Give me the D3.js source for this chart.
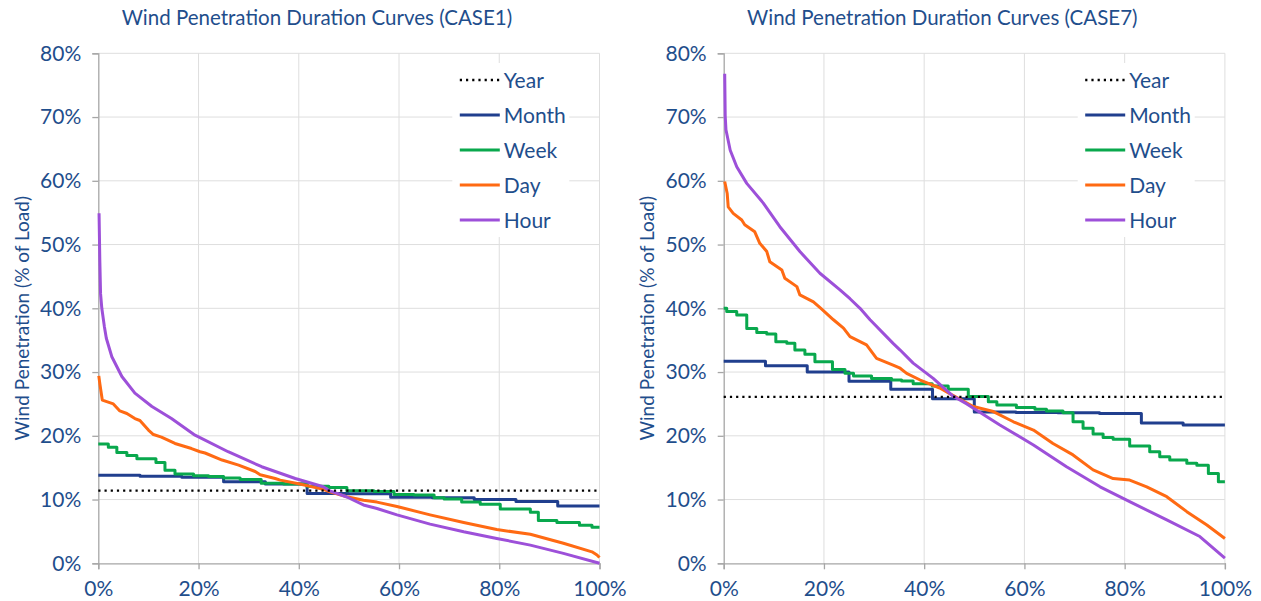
<!DOCTYPE html>
<html>
<head>
<meta charset="utf-8">
<script src="https://cdn.jsdelivr.net/npm/d3@7"></script>
<style>
  html, body { margin: 0; padding: 0; background: #ffffff; }
  svg { display: block; }
  text { font-family: Lato, "Noto Sans", sans-serif; }
</style>
</head>
<body>
<svg id="chart" width="1261" height="601"></svg>
<script>
// ---- data ---------------------------------------------------------------
const durationTicks = [0, 20, 40, 60, 80, 100];
const penetrationTicks = [0, 10, 20, 30, 40, 50, 60, 70, 80];
const seriesNames = ["Year", "Month", "Week", "Day", "Hour"];
const seriesColors = ["#000000", "#203f8e", "#09a84d", "#ff6a13", "#9d50d9"];

// annual average penetration (% of load)
const case1Year = 11.4;
const case7Year = 26.1;

// monthly averages, sorted high to low (12 equal-duration steps)
const case1Month = [13.8, 13.65, 13.5, 12.8, 12.45, 10.95, 10.9, 10.35, 10.3, 10.0, 9.7, 9.0];
const case7Month = [31.7, 31.0, 30.0, 28.55, 27.3, 25.8, 23.75, 23.65, 23.6, 23.5, 22.0, 21.7];

// weekly averages: [duration %, penetration %] step starts
const case1Week = [[0, 18.7], [2, 18.2], [3.7, 17.4], [5.7, 16.9], [7.7, 16.4], [11.5, 15.8],
  [13.3, 14.6], [15.3, 14.0], [19, 13.75], [22, 13.6], [25, 13.4], [28.3, 13.15], [32.5, 12.55],
  [37, 12.45], [41.6, 12.1], [46, 11.9], [49.6, 11.4], [55, 11.25], [59, 10.8], [63, 10.7],
  [67, 10.3], [69, 10.1], [72.5, 9.6], [76.2, 9.25], [80.2, 8.5], [86.2, 8.0], [87.8, 6.7],
  [91.5, 6.4], [96, 5.95], [98.5, 5.65], [100, 5.65]];
const case7Week = [[0, 40.0], [0.6, 39.5], [2.6, 38.95], [4.6, 36.85], [6.6, 36.2], [8.6, 35.95],
  [10.4, 34.75], [12.6, 34.5], [14.2, 33.45], [16.2, 32.8], [18.2, 31.6], [21.7, 30.4],
  [24.2, 29.8], [25.9, 29.4], [29.5, 29.0], [33.5, 28.75], [35.5, 28.6], [37.8, 28.15],
  [41.6, 27.8], [44.8, 27.3], [48.8, 26.15], [52.8, 25.35], [54.5, 24.85], [58.4, 24.45],
  [62.1, 24.15], [64.4, 23.9], [67.7, 23.6], [69.7, 22.2], [71.7, 21.2], [73.7, 20.3],
  [75.7, 19.75], [77.7, 19.45], [81, 18.4], [85, 17.5], [87, 16.7], [89, 16.2], [92.4, 15.7],
  [94.4, 15.4], [96.7, 14.1], [98.7, 12.8], [100, 12.8]];

// daily averages: [duration %, penetration %]
const case1Day = [[0.1, 29.4], [0.3, 28.2], [0.8, 25.6], [3, 25.0], [4.3, 23.9], [5.7, 23.5],
  [7.3, 22.7], [8.3, 22.4], [10, 20.9], [11, 20.2], [12.6, 19.8], [15.3, 18.8], [18.6, 18.0],
  [20.3, 17.5], [21.3, 17.3], [24.7, 16.2], [28, 15.4], [31.3, 14.4], [32.3, 13.9], [35.3, 13.3],
  [36.3, 13.05], [40.2, 12.45], [44.9, 11.6], [46.2, 11.2], [49.6, 10.45], [52.9, 9.9],
  [55.6, 9.6], [59.6, 8.9], [66.2, 7.6], [72.9, 6.4], [79.5, 5.3], [86.2, 4.55], [92.8, 3.15],
  [98.5, 1.8], [99.5, 1.3], [100, 0.9]];
const case7Day = [[0.2, 59.9], [0.7, 58.0], [0.9, 55.9], [1.9, 54.9], [3.6, 53.85], [4.2, 53.1],
  [6.2, 52.0], [7.2, 50.2], [8.6, 48.9], [9.2, 47.3], [11.6, 46.0], [12.2, 44.7], [14.6, 43.4],
  [15.2, 42.1], [17.9, 41.0], [19.5, 39.9], [21.9, 38.2], [23.9, 36.9], [25.2, 35.55],
  [28.5, 34.25], [30.5, 32.15], [33.8, 31.1], [35.2, 30.6], [36.5, 29.8], [39.2, 28.75],
  [43.1, 27.5], [45.8, 26.3], [49.8, 24.6], [53.8, 23.8], [57.8, 22.2], [61.8, 20.9],
  [65.7, 18.8], [69.7, 17.0], [73.7, 14.65], [77.7, 13.3], [81.0, 13.05], [84.4, 12.0],
  [88.4, 10.45], [92.4, 8.1], [96.4, 6.0], [100, 3.9]];

// hourly values: [duration %, penetration %]
const case1Hour = [[0.15, 54.9], [0.3, 47.6], [0.45, 42.3], [0.7, 40.0], [1.2, 37.2],
  [1.6, 35.3], [2.7, 32.4], [4.7, 29.3], [7.3, 26.7], [10.7, 24.6], [14.6, 22.7], [19.3, 20.1],
  [25.9, 17.5], [32.6, 15.15], [39.3, 13.3], [44.9, 12.0], [46.2, 11.35], [49.6, 10.4],
  [52.9, 9.15], [55.6, 8.6], [59.6, 7.6], [66.2, 6.15], [72.9, 4.95], [79.5, 3.9], [86.2, 2.85],
  [92.8, 1.55], [100, 0.0]];
const case7Hour = [[0.2, 76.8], [0.3, 70.2], [0.45, 68.0], [1.3, 64.8], [2.6, 62.2], [4.6, 59.6],
  [7.9, 56.5], [11.2, 52.8], [15.2, 48.9], [19.2, 45.5], [23.2, 42.9], [25.2, 41.5], [27.2, 40.0],
  [29.2, 38.2], [33.8, 34.5], [35.2, 33.45], [37.8, 31.4], [41.8, 29.0], [45.8, 26.2],
  [48.5, 25.0], [55.1, 21.7], [61.8, 18.55], [68.4, 15.15], [75.1, 12.0], [81.7, 9.4],
  [88.4, 6.8], [95.0, 4.2], [100, 0.8]];

const panels = [
  { title: "Wind Penetration Duration Curves (CASE1)", left: 98.3,
    year: case1Year, month: case1Month, week: case1Week, day: case1Day, hour: case1Hour },
  { title: "Wind Penetration Duration Curves (CASE7)", left: 723.7,
    year: case7Year, month: case7Month, week: case7Week, day: case7Day, hour: case7Hour }
];

// ---- drawing ------------------------------------------------------------
const svg = d3.select("#chart");
const plotW = 501.2, plotTop = 53.3, plotBottom = 563.3;
const textColor = "#1f4e8c";
const axisColor = "#a6a6a6";
const gridColor = "#dedede";

panels.forEach(p => {
  const x = d3.scaleLinear().domain([0, 100]).range([p.left, p.left + plotW]);
  const y = d3.scaleLinear().domain([0, 80]).range([plotBottom, plotTop]);
  const g = svg.append("g");

  // gridlines
  g.append("g").selectAll("line.h").data(penetrationTicks.slice(1)).join("line")
    .attr("x1", x(0)).attr("x2", x(100))
    .attr("y1", d => y(d)).attr("y2", d => y(d))
    .attr("stroke", gridColor).attr("stroke-width", 1);
  g.append("g").selectAll("line.v").data(durationTicks.slice(1)).join("line")
    .attr("x1", d => x(d)).attr("x2", d => x(d))
    .attr("y1", y(0)).attr("y2", y(80))
    .attr("stroke", gridColor).attr("stroke-width", 1);

  // axes
  const yAxis = d3.axisLeft(y).tickValues(penetrationTicks).tickSize(6).tickPadding(11)
    .tickFormat(d => d + "%");
  const xAxis = d3.axisBottom(x).tickValues(durationTicks).tickSize(6).tickPadding(12)
    .tickFormat(d => d + "%");
  const ya = g.append("g").attr("transform", `translate(${x(0)},0)`).call(yAxis);
  const xa = g.append("g").attr("transform", `translate(0,${y(0)})`).call(xAxis);
  [ya, xa].forEach(a => {
    a.select(".domain").attr("stroke", axisColor).attr("stroke-width", 1.3);
    a.selectAll(".tick line").attr("stroke", axisColor).attr("stroke-width", 1.3);
    a.selectAll(".tick text").attr("fill", textColor)
      .style("font-size", "21px").style("font-family", "Lato, sans-serif");
  });

  // title and y axis label
  g.append("text").attr("x", x(50) - 32).attr("y", 25).attr("text-anchor", "middle")
    .attr("fill", textColor).style("font-size", "20.5px").text(p.title);
  g.append("text")
    .attr("transform", `translate(${x(0) - 77},${(plotTop + plotBottom) / 2 + 10}) rotate(-90)`)
    .attr("text-anchor", "middle").attr("dominant-baseline", "central")
    .attr("fill", textColor).style("font-size", "19px").text("Wind Penetration (% of Load)");

  // series
  const line = d3.line().x(d => x(d[0])).y(d => y(d[1]));
  const stepLine = d3.line().x(d => x(d[0])).y(d => y(d[1])).curve(d3.curveStepAfter);
  const monthPts = p.month.map((v, i) => [i * 100 / p.month.length, v]);
  monthPts.push([100, p.month[p.month.length - 1]]);

  const series = [
    { name: "Month", d: stepLine(monthPts) },
    { name: "Week", d: stepLine(p.week) },
    { name: "Day", d: line(p.day) },
    { name: "Hour", d: line(p.hour) }
  ];
  series.forEach(s => {
    g.append("path").attr("d", s.d).attr("fill", "none")
      .attr("stroke", seriesColors[seriesNames.indexOf(s.name)])
      .attr("stroke-width", 3).attr("stroke-linejoin", "round");
  });
  g.append("path").attr("d", line([[0, p.year], [100, p.year]]))
    .attr("fill", "none").attr("stroke", seriesColors[0])
    .attr("stroke-width", 2.4).attr("stroke-dasharray", "2.2,4");

  // legend
  const lg = g.append("g");
  lg.append("rect").attr("x", x(0) + 354).attr("y", 63).attr("width", 117).attr("height", 174)
    .attr("fill", "#ffffff");
  seriesNames.forEach((name, i) => {
    const cy = 80 + i * 35;
    const ln = lg.append("line")
      .attr("x1", x(0) + 361.5).attr("x2", x(0) + 401.5)
      .attr("y1", cy).attr("y2", cy)
      .attr("stroke", seriesColors[i]);
    if (name === "Year") ln.attr("stroke-width", 2.4).attr("stroke-dasharray", "2.2,4");
    else ln.attr("stroke-width", 3);
    lg.append("text").attr("x", x(0) + 405.5).attr("y", cy - 1).attr("dominant-baseline", "central")
      .attr("fill", textColor).style("font-size", "21px").text(name);
  });
});
</script>
</body>
</html>
